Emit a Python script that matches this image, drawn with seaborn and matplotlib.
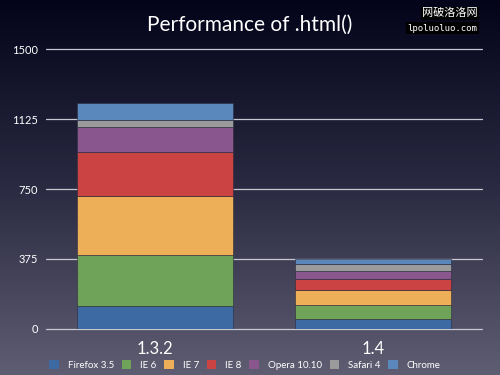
import numpy as np
import pandas as pd
import seaborn as sns
import matplotlib
matplotlib.use("Agg")
import matplotlib.pyplot as plt
from matplotlib.patches import Patch
from matplotlib.colors import LinearSegmentedColormap

versions = ["1.3.2", "1.4"]
browsers = ["Firefox 3.5", "IE 6", "IE 7", "IE 8", "Opera 10.10", "Safari 4", "Chrome"]
times = {
    "Firefox 3.5": [121, 54],
    "IE 6": [277, 76],
    "IE 7": [312, 77],
    "IE 8": [236, 61],
    "Opera 10.10": [134, 44],
    "Safari 4": [41, 38],
    "Chrome": [90, 27],
}
colors = ["#3d6aa3", "#6fa35a", "#edb058", "#cb4443", "#89568e", "#9b9b9b", "#5a88bd"]
yticks = [0, 375, 750, 1125, 1500]

sns.set_style("white")
plt.rcParams["font.family"] = ["Lato", "DejaVu Sans"]

fig = plt.figure(figsize=(5, 3.75), dpi=100)

# background gradient
bg = fig.add_axes([0, 0, 1, 1], zorder=-10)
grad = np.linspace(0, 1, 256).reshape(-1, 1)
cmap = LinearSegmentedColormap.from_list("bg", ["#03031a", "#2a2a42", "#5f5d72"])
bg.imshow(grad, aspect="auto", cmap=cmap, extent=[0, 1, 0, 1], origin="upper")
bg.axis("off")

ax = fig.add_axes([0.092, 0.1227, 0.872, 0.7466])
ax.set_facecolor("none")

df = pd.DataFrame(times, index=versions)
bottom = np.zeros(len(versions))
for b, c in zip(browsers, colors):
    sns.barplot(x=versions, y=df[b].values, color=c, saturation=1, width=0.72,
                bottom=bottom, ax=ax, zorder=3, edgecolor="#2a2a3a", linewidth=0.4)
    bottom += df[b].values

ax.set_ylim(0, 1500)
ax.set_xlim(-0.5, 1.5)
ax.set_yticks(yticks)
ax.set_yticklabels([str(t) for t in yticks], color="white", fontsize=8)
ax.set_xticks([0, 1])
ax.set_xticklabels(versions, color="white", fontsize=12)
ax.tick_params(axis="y", length=0, pad=6)
ax.tick_params(axis="x", length=0, pad=9)
for t in yticks:
    ax.axhline(t, color="#c8c8d0", linewidth=0.9, zorder=1, clip_on=False)
for s in ax.spines.values():
    s.set_visible(False)

fig.text(0.5, 0.935, "Performance of .html()", color="white", fontsize=15,
         ha="center", va="center")

handles = [Patch(facecolor=c, edgecolor="none", label=b) for b, c in zip(browsers, colors)]
leg = fig.legend(handles=handles, loc="center", bbox_to_anchor=(0.49, 0.027), ncol=7,
                 frameon=False, fontsize=7, handlelength=1.0, handleheight=1.0,
                 handletextpad=0.9, columnspacing=0.8)
for t in leg.get_texts():
    t.set_color("white")

fig.text(0.955, 0.965, "网破洛洛网", color="white", fontsize=8, ha="right", va="center",
         family=["Noto Sans CJK SC", "DejaVu Sans"],
         bbox=dict(facecolor="black", edgecolor="none", pad=1))
fig.text(0.955, 0.925, "lpoluoluo.com", color="white", fontsize=6.5, ha="right", va="center",
         family=["DejaVu Sans Mono"],
         bbox=dict(facecolor="black", edgecolor="none", pad=1))

fig.savefig("out.png", dpi=100)
